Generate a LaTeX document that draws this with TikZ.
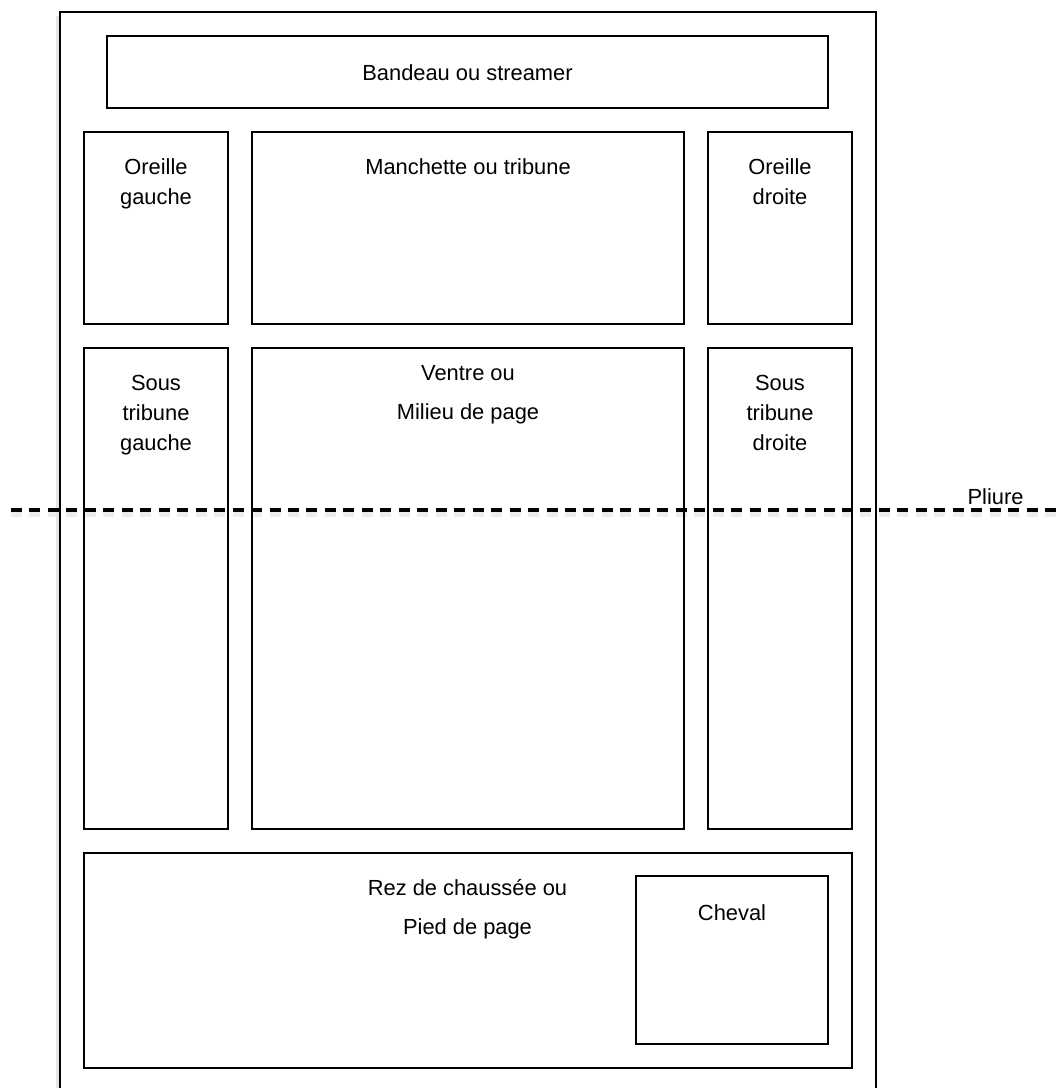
\documentclass[tikz,border=0pt]{standalone}
\usepackage{fontspec}
\setmainfont{Liberation Sans}
\begin{document}
\begin{tikzpicture}[x=0.75pt,y=-0.75pt,
  pagebox/.style={draw=black,line width=1.5pt},
  zonebox/.style={draw=black,line width=1.2pt},
  lbl/.style={anchor=base,inner sep=0pt,font=\fontsize{16.4}{19}\selectfont},
  foldline/.style={line width=2.4pt,dash pattern=on 8.25pt off 5.6pt},
  foldshadow/.style={line width=4pt,dash pattern=on 8.25pt off 5.6pt,draw=black!7}]
\useasboundingbox (0,0) rectangle (1061,1088);
% fold line ends and its soft shadow (drawn first, under everything)
\coordinate (foldA) at (11,510);
\coordinate (foldB) at (1061,510);
\draw[foldshadow] ([yshift=-3.5pt]foldA) -- ([yshift=-3.5pt]foldB);
% page shadow and outline
\draw[draw=black!10,line width=2pt] (57.5,16) -- (57.5,1100);
\draw[pagebox] (60,1100) -- (60,12) -- (876,12) -- (876,1100);
% zones
\draw[zonebox] (107,36) rectangle (828,108);
\draw[zonebox] (84,132) rectangle (228,324);
\draw[zonebox] (252,132) rectangle (684,324);
\draw[zonebox] (708,132) rectangle (852,324);
\draw[zonebox] (84,348) rectangle (228,829);
\draw[zonebox] (252,348) rectangle (684,829);
\draw[zonebox] (708,348) rectangle (852,829);
\draw[zonebox] (84,853) rectangle (852,1068);
\draw[zonebox] (636,876) rectangle (828,1044);
% fold line
\draw[foldline] (foldA) -- (foldB);
% labels
\node[lbl] (bandeau) at (467.5,80) {Bandeau ou streamer};
\node[lbl] (manchette) at (468,174) {Manchette ou tribune};
\node[lbl] (og1) at (156,174) {Oreille};
\node[lbl] (og2) at (156,204) {gauche};
\node[lbl] (od1) at (780,174) {Oreille};
\node[lbl] (od2) at (780,204) {droite};
\node[lbl] (sg1) at (156,390) {Sous};
\node[lbl] (sg2) at (156,420) {tribune};
\node[lbl] (sg3) at (156,450) {gauche};
\node[lbl] (sd1) at (780,390) {Sous};
\node[lbl] (sd2) at (780,420) {tribune};
\node[lbl] (sd3) at (780,450) {droite};
\node[lbl] (ventre1) at (468,380) {Ventre ou};
\node[lbl] (ventre2) at (468,419) {Milieu de page};
\node[lbl] (rez1) at (467.5,895) {Rez de chaussée ou};
\node[lbl] (rez2) at (467.5,934) {Pied de page};
\node[lbl] (cheval) at (732,920) {Cheval};
\node[lbl] (pliure) at (995.5,504) {Pliure};
\end{tikzpicture}
\end{document}
